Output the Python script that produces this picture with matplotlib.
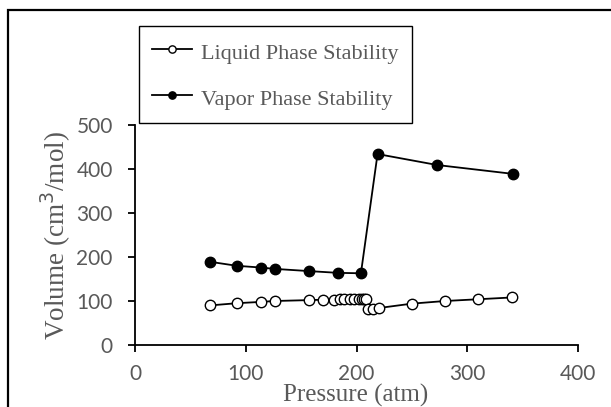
import matplotlib
matplotlib.use("Agg")
import matplotlib.pyplot as plt
from matplotlib.patches import Rectangle

liquid_p = [68, 92, 114, 126, 157, 170, 180, 185, 189, 194, 198, 202, 205, 207, 209, 210, 215, 220, 250, 280, 310, 340]
liquid_v = [90, 95, 98, 100, 102, 103, 103, 104, 104, 104, 105, 105, 105, 105, 105, 82, 82, 84, 94, 100, 104, 108]
vapor_p = [68, 92, 114, 126, 157, 183, 204, 219, 273, 341]
vapor_v = [189, 180, 176, 173, 168, 164, 163, 434, 409, 389]
x_ticks = [0, 100, 200, 300, 400]
y_ticks = [0, 100, 200, 300, 400, 500]

W, H = 611, 407
fig = plt.figure(figsize=(W / 100, H / 100), dpi=100)
ax = fig.add_axes([135 / W, 1 - 345 / H, (578 - 135) / W, (345 - 125) / H])

gray = "#595959"
serif = ["Liberation Serif", "DejaVu Serif"]
sans = ["Lato", "DejaVu Sans"]

l1, = ax.plot(liquid_p, liquid_v, color="black", lw=1.3, marker="o", ms=7.5,
              mfc="white", mec="black", mew=1.0, label="Liquid Phase Stability")
l2, = ax.plot(vapor_p, vapor_v, color="black", lw=1.3, marker="o", ms=7.5,
              mfc="black", mec="black", label="Vapor Phase Stability")

ax.set_xlim(0, 400)
ax.set_ylim(0, 500)
ax.set_xticks(x_ticks)
ax.set_yticks(y_ticks)
for s in ["top", "right"]:
    ax.spines[s].set_visible(False)
for s in ["left", "bottom"]:
    ax.spines[s].set_linewidth(1.3)
ax.tick_params(direction="out", length=5, width=1.3, colors="black",
               labelcolor=gray, labelsize=15)
ax.tick_params(axis="x", pad=9)
ax.tick_params(axis="y", pad=11)
for lab in ax.get_xticklabels() + ax.get_yticklabels():
    lab.set_family(sans)

fig.text(356 / W, 1 - 395 / H, "Pressure (atm)", ha="center", va="center",
         fontsize=18, color=gray, family=serif)
fig.text(56 / W, 1 - 236 / H, "Volume (cm$^3$/mol)", ha="center", va="center",
         rotation=90, fontsize=19.5, color=gray, family=serif)

leg = fig.legend(handles=[l1, l2], loc="upper left",
                 bbox_to_anchor=(139 / W, 1 - 26 / H),
                 bbox_transform=fig.transFigure,
                 frameon=True, fancybox=False, framealpha=1,
                 edgecolor="black", prop={"family": serif, "size": 16},
                 markerscale=0.7, handlelength=1.8, handletextpad=0.38,
                 handleheight=1.3,
                 borderpad=0.6, labelspacing=0.95, borderaxespad=0)
leg.get_frame().set_linewidth(1.0)
for t in leg.get_texts():
    t.set_color(gray)

fig.patches.append(Rectangle((8 / W, -0.1), 1.2, 1 - 10 / H + 0.1,
                             transform=fig.transFigure, fill=False,
                             edgecolor="black", linewidth=1.6))

fig.savefig("out.png", dpi=100)
